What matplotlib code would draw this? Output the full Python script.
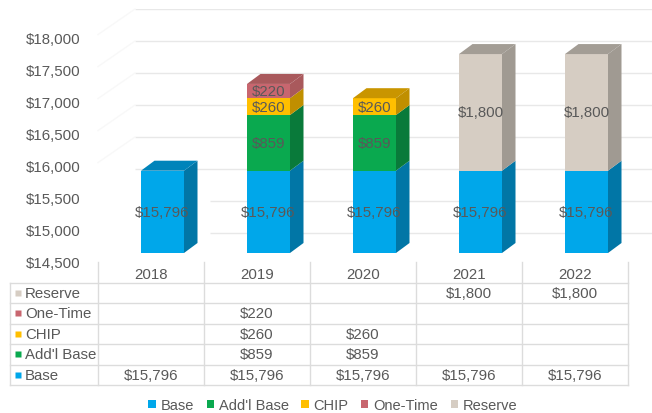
"""Stacked 3D-look budget columns with a data table underneath."""

import matplotlib
matplotlib.use("Agg")
import matplotlib.pyplot as plt
from matplotlib.patches import Patch, Polygon
from matplotlib.transforms import ScaledTranslation

plt.rcParams["font.family"] = ["Liberation Sans", "DejaVu Sans"]

years = ["2018", "2019", "2020", "2021", "2022"]
base = [15796, 15796, 15796, 15796, 15796]
addl_base = [0, 859, 859, 0, 0]
chip = [0, 260, 260, 0, 0]
one_time = [0, 220, 0, 0, 0]
reserve = [0, 0, 0, 1800, 1800]

series_names = ["Base", "Add'l Base", "CHIP", "One-Time", "Reserve"]
series_values = [base, addl_base, chip, one_time, reserve]
y_ticks = [14500, 15000, 15500, 16000, 16500, 17000, 17500, 18000]
grid_values = [15000, 15500, 16000, 16500, 17000, 17500, 18000, 18500]

front_colors = ["#00a7ea", "#0aa94f", "#ffbf00", "#c8666f", "#d6cdc3"]
side_colors = ["#0176a6", "#097a3a", "#c08f00", "#a9595c", "#a09a92"]
top_colors = ["#0084ba", "#0a8a42", "#c99500", "#a9595c", "#a39d95"]

W, H = 652, 414
TEXT = "#595959"
LINE = "#dcdcdc"
FONT = 10.8


def add_axes_px(fig, left, top, right, bottom):
    """Add a transparent axes from a pixel box, y measured from the top."""
    ax = fig.add_axes([left / W, 1 - bottom / H, (right - left) / W, (bottom - top) / H])
    ax.patch.set_alpha(0)
    for spine in ax.spines.values():
        spine.set_visible(False)
    return ax


fig = plt.figure(figsize=(W / 100, H / 100), dpi=100)

# back wall: gridlines and the value axis
wall = add_axes_px(fig, 85, 10, W, 266)
wall.set_xlim(85, W)
wall.set_ylim(14500, 18500)
for v in grid_values:
    start = 210 if v < 15600 else 135
    wall.hlines(v, start, W, color="#e8e8e8", lw=1.0, zorder=1)
    if v >= 16500:
        wall.plot([98, 135], [v - 400, v], color="#f8f8f8", lw=1.0, zorder=1, clip_on=False)
wall.set_xticks([])
wall.set_yticks(y_ticks)
wall.set_yticklabels([f"${v:,}" for v in y_ticks], fontsize=FONT, color=TEXT)
wall.tick_params(axis="y", length=0, pad=3)
shift = ScaledTranslation(0, 2.7 / 72, fig.dpi_scale_trans)
for lab in wall.get_yticklabels():
    lab.set_transform(lab.get_transform() + shift)

# columns, front plane scale
px_per_unit = 0.0648
px_per_cat = 106
bars = add_axes_px(fig, 98, 0, 628, 254)
bars.set_xlim((98 - 162.5) / px_per_cat, (628 - 162.5) / px_per_cat)
bars.set_ylim(14526, 14526 + 254 / px_per_unit)
bars.axis("off")

half = 21.5 / px_per_cat
dx = 13.5 / px_per_cat
dy = 10 / px_per_unit

for i in range(len(years)):
    bottom = 14526
    top_idx = max(k for k, s in enumerate(series_values) if s[i] > 0)
    for k, s in enumerate(series_values):
        val = s[i]
        if val == 0:
            continue
        floor = bottom
        height = val - 14526 if k == 0 else val
        bars.bar(i, height, width=2 * half, bottom=floor, color=front_colors[k], zorder=3)
        ceil = floor + height
        bars.add_patch(Polygon(
            [(i + half, floor), (i + half + dx, floor + dy),
             (i + half + dx, ceil + dy), (i + half, ceil)],
            closed=True, fc=side_colors[k], ec="none", zorder=3 + k * 0.01))
        if k == top_idx:
            bars.add_patch(Polygon(
                [(i - half, ceil), (i - half + dx, ceil + dy),
                 (i + half + dx, ceil + dy), (i + half, ceil)],
                closed=True, fc=top_colors[k], ec="none", zorder=3))
        bars.text(i, floor + height / 2, f"${val:,}", ha="center", va="center",
                  fontsize=FONT, color=TEXT, zorder=5)
        bottom = ceil

# data table under the chart
table = add_axes_px(fig, 10, 263, 628, 386)
table.set_xlim(-88 / px_per_cat, 5)
table.set_ylim(0, 6)
table.set_xticks([])
table.set_yticks([])

n_rows = len(series_names)
for r in range(n_rows + 1):
    table.plot([-88 / px_per_cat, 5], [r, r], color=LINE, lw=1.0, clip_on=False)
table.plot([-88 / px_per_cat] * 2, [0, n_rows], color=LINE, lw=1.0, clip_on=False)
for c in range(len(years) + 1):
    table.plot([c, c], [0, n_rows + 1], color=LINE, lw=1.0, clip_on=False)

for c, year in enumerate(years):
    table.text(c + 0.5, n_rows + 0.42, year, ha="center", va="center", fontsize=FONT, color=TEXT)

for r, (name, vals) in enumerate(zip(series_names, series_values)):
    y = r + 0.5
    table.plot(-80 / px_per_cat, y, marker="s", ms=4.5, color=front_colors[r], mec="none", clip_on=False)
    table.text(-73 / px_per_cat, y, name, ha="left", va="center", fontsize=FONT, color=TEXT)
    for c, v in enumerate(vals):
        if v:
            table.text(c + 0.5, y, f"${v:,}", ha="center", va="center", fontsize=FONT, color=TEXT)

handles = [Patch(fc=col, ec="none", label=name) for col, name in zip(front_colors, series_names)]
fig.legend(handles=handles, loc="center", bbox_to_anchor=(333 / W, 1 - 406 / H), ncol=5,
           frameon=False, fontsize=10.5, labelcolor=TEXT, handlelength=0.5, handleheight=0.5,
           handletextpad=0.35, columnspacing=0.85, borderpad=0)

fig.savefig("out.png", dpi=100)
